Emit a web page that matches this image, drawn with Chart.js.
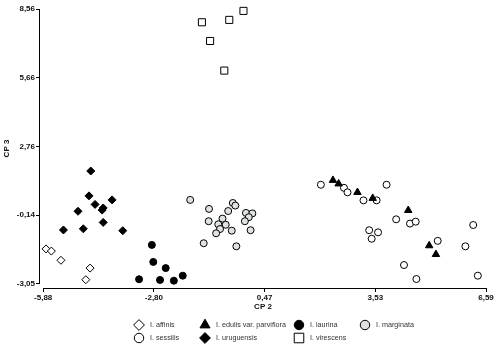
<!DOCTYPE html>
<html>
<head>
<meta charset="utf-8">
<script src="https://cdn.jsdelivr.net/npm/chart.js@4.4.1/dist/chart.umd.min.js"></script>
<style>
  html, body { margin: 0; padding: 0; background: #fff; }
  #wrap { width: 499px; height: 350px; }
</style>
</head>
<body>
<div id="wrap"><canvas id="plot"></canvas></div>
<script>
// axis tick labels as printed (the ticks sit evenly between the two end values)
var xTickLabels = ['-5,88', '-2,80', '0,47', '3,53', '6,59'];
var yTickLabels = ['-3,05', '-0,14', '2,76', '5,66', '8,56'];
var xEnds = [-5.88, 6.59];
var yEnds = [-3.05, 8.56];

// scores (CP 2 = x, CP 3 = y)
var affinisX = [-5.80, -5.65, -5.38, -4.56, -4.68];
var affinisY = [-1.57, -1.66, -2.05, -2.38, -2.87];

var edulisX = [2.28, 2.44, 2.97, 3.40, 4.40, 4.99, 5.18];
var edulisY = [1.33, 1.18, 0.82, 0.57, 0.06, -1.43, -1.80];

var laurinaX = [-2.82, -2.78, -2.43, -3.18, -2.59, -2.20, -1.95];
var laurinaY = [-1.40, -2.12, -2.38, -2.85, -2.88, -2.91, -2.70];

var marginataX = [-1.74, -1.21, -0.54, -0.47, -0.67, -0.17, 0.01, -0.09, -0.20, -1.22,
                  -0.83, -0.95, -0.74, -0.90, -1.01, -0.57, -0.04, -1.36, -0.44];
var marginataY = [0.50, 0.12, 0.37, 0.26, 0.03, -0.05, -0.07, -0.23, -0.40, -0.40,
                  -0.29, -0.53, -0.55, -0.73, -0.91, -0.80, -0.78, -1.33, -1.46];

var sessilisX = [1.94, 2.59, 2.69, 3.14, 3.51, 3.79, 4.06, 4.45, 4.61, 3.30,
                 3.55, 3.37, 5.23, 6.23, 6.01, 4.28, 4.63, 6.36];
var sessilisY = [1.14, 1.01, 0.82, 0.48, 0.48, 1.14, -0.32, -0.50, -0.42, -0.78,
                 -0.87, -1.14, -1.23, -0.56, -1.46, -2.25, -2.84, -2.70];

var uruguensisX = [-4.54, -4.59, -4.42, -4.19, -4.22, -4.90, -3.94, -4.19, -4.75, -5.31, -3.64];
var uruguensisY = [1.72, 0.67, 0.31, 0.16, 0.07, 0.02, 0.50, -0.45, -0.72, -0.77, -0.80];

var virescensX = [-1.41, -0.64, -0.24, -1.18, -0.78];
var virescensY = [8.00, 8.10, 8.48, 7.21, 5.96];

function pts(xs, ys) {
  return xs.map(function (x, i) { return { x: x, y: ys[i] }; });
}

function spread(ends, n) {
  var out = [];
  for (var i = 0; i < n; i++) out.push(ends[0] + (ends[1] - ends[0]) * i / (n - 1));
  return out;
}

var fam = "'Liberation Sans Narrow', 'Liberation Sans', Arial, sans-serif";

// legend is laid out in a 4 column grid like the original
var legendGrid = {
  id: 'legendGrid',
  afterDraw: function (chart) {
    var ctx = chart.ctx;
    var cols = [139, 205, 299, 365];
    var rows = [325, 338];
    ctx.save();
    chart.data.datasets.forEach(function (ds, i) {
      var cx = cols[i % 4], cy = rows[Math.floor(i / 4)];
      ctx.fillStyle = ds.backgroundColor;
      ctx.strokeStyle = ds.borderColor;
      ctx.lineWidth = 1;
      Chart.helpers.drawPoint(ctx, {
        pointStyle: ds.pointStyle, radius: ds.pointRadius * 1.35, rotation: 0, borderWidth: 1
      }, cx, cy);
      ctx.fillStyle = '#333';
      ctx.font = '7.2px ' + fam;
      ctx.textBaseline = 'middle';
      ctx.fillText(ds.label, cx + 11, cy + 0.5);
    });
    ctx.restore();
  }
};

// axis lines only span the tick range, leaving the corner open
var axisLines = {
  id: 'axisLines',
  afterDraw: function (chart) {
    var ctx = chart.ctx, xs = chart.scales.x, ys = chart.scales.y;
    var l = Math.round(chart.chartArea.left) - 0.5;
    var b = Math.round(chart.chartArea.bottom) + 0.5;
    ctx.save();
    ctx.strokeStyle = '#000';
    ctx.lineWidth = 1;
    ctx.beginPath();
    ctx.moveTo(l, ys.getPixelForValue(yEnds[1]));
    ctx.lineTo(l, ys.getPixelForValue(yEnds[0]));
    ctx.moveTo(xs.getPixelForValue(xEnds[0]), b);
    ctx.lineTo(xs.getPixelForValue(xEnds[1]), b);
    ctx.stroke();
    ctx.restore();
  }
};

var ctx = document.getElementById('plot');

var chart = new Chart(ctx, {
  type: 'scatter',
  data: {
    datasets: [
      { label: 'I. affinis', data: pts(affinisX, affinisY), pointStyle: 'rectRot', pointRadius: 4,
        backgroundColor: '#ffffff', borderColor: '#000000', borderWidth: 1 },
      { label: 'I. edulis var. parviflora', data: pts(edulisX, edulisY), pointStyle: 'triangle', pointRadius: 4.3,
        backgroundColor: '#000000', borderColor: '#000000', borderWidth: 1 },
      { label: 'I. laurina', data: pts(laurinaX, laurinaY), pointStyle: 'circle', pointRadius: 3.5,
        backgroundColor: '#000000', borderColor: '#000000', borderWidth: 1 },
      { label: 'I. marginata', data: pts(marginataX, marginataY), pointStyle: 'circle', pointRadius: 3.5,
        backgroundColor: '#dfe3df', borderColor: '#000000', borderWidth: 1 },
      { label: 'I. sessilis', data: pts(sessilisX, sessilisY), pointStyle: 'circle', pointRadius: 3.5,
        backgroundColor: '#ffffff', borderColor: '#000000', borderWidth: 1 },
      { label: 'I. uruguensis', data: pts(uruguensisX, uruguensisY), pointStyle: 'rectRot', pointRadius: 4,
        backgroundColor: '#000000', borderColor: '#000000', borderWidth: 1 },
      { label: 'I. virescens', data: pts(virescensX, virescensY), pointStyle: 'rect', pointRadius: 5,
        backgroundColor: '#ffffff', borderColor: '#000000', borderWidth: 1 }
    ]
  },
  options: {
    responsive: true,
    maintainAspectRatio: false,
    animation: false,
    clip: false,
    layout: { padding: { top: 9, right: 13, bottom: 38, left: 0 } },
    plugins: {
      legend: { display: false },
      tooltip: { enabled: false }
    },
    scales: {
      x: {
        type: 'linear',
        min: -5.97,
        max: xEnds[1],
        afterBuildTicks: function (s) {
          s.ticks = spread(xEnds, xTickLabels.length).map(function (v) { return { value: v }; });
        },
        afterFit: function (s) { s.height = 24; },
        ticks: {
          callback: function (v, i) { return xTickLabels[i]; },
          color: '#111',
          padding: 1,
          maxRotation: 0,
          font: { family: fam, size: 8, weight: 'bold' }
        },
        grid: { display: true, drawOnChartArea: false, drawTicks: true, tickLength: 4, color: '#000' },
        border: { display: false },
        title: { display: true, text: 'CP 2', color: '#111', padding: 0,
                 font: { family: fam, size: 8, weight: 'bold' } }
      },
      y: {
        type: 'linear',
        min: -3.22,
        max: yEnds[1],
        afterBuildTicks: function (s) {
          s.ticks = spread(yEnds, yTickLabels.length).map(function (v) { return { value: v }; });
        },
        afterFit: function (s) { s.width = 40; },
        ticks: {
          callback: function (v, i) { return yTickLabels[i]; },
          color: '#111',
          padding: 1,
          font: { family: fam, size: 8, weight: 'bold' }
        },
        grid: { display: true, drawOnChartArea: false, drawTicks: true, tickLength: 4, color: '#000' },
        border: { display: false },
        title: { display: true, text: 'CP 3', color: '#111', padding: { top: 2, bottom: 0 },
                 font: { family: fam, size: 8, weight: 'bold' } }
      }
    }
  },
  plugins: [axisLines, legendGrid]
});
</script>
</body>
</html>
